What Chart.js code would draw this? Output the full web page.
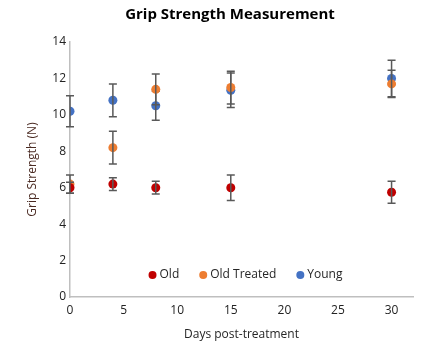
<!DOCTYPE html>
<html lang="en">
<head>
    <meta charset="UTF-8">
    <script src="https://cdn.jsdelivr.net/npm/chart.js"></script>
    <title>Grip Strength</title>
    <style>
        body { margin: 0; background: #fff; }
    </style>
</head>
<body>
    <canvas id="gripChart" width="433" height="360"></canvas>

    <script>
        // days post-treatment
        const days = [0, 4, 8, 15, 30];

        // mean grip strength (N) and error (+/-)
        const oldVals = [6.0, 6.2, 6.0, 6.0, 5.75];
        const oldErr = [0.3, 0.35, 0.35, 0.7, 0.6];
        const treatedVals = [6.2, 8.2, 11.4, 11.5, 11.7];
        const treatedErr = [0.5, 0.9, 0.85, 0.9, 0.75];
        const youngVals = [10.2, 10.8, 10.5, 11.35, 12.0];
        const youngErr = [0.85, 0.9, 0.8, 0.95, 1.0];

        const xTicks = [0, 5, 10, 15, 20, 25, 30];

        const chartTitle = 'Grip Strength Measurement';
        const font = '"Open Sans", "Noto Sans", sans-serif';

        function toPoints(vals) {
            return days.map((d, i) => ({ x: d, y: vals[i] }));
        }

        // draws vertical error bars for each dataset right after it is drawn
        const errorBars = {
            id: 'errorBars',
            afterDatasetDraw(chart, args) {
                const ds = chart.data.datasets[args.index];
                if (!ds.errors) return;
                const { ctx, scales: { x, y } } = chart;
                ctx.save();
                ctx.strokeStyle = '#595959';
                ctx.lineWidth = 1.5;
                ds.data.forEach((p, i) => {
                    const px = x.getPixelForValue(p.x);
                    const top = y.getPixelForValue(p.y + ds.errors[i]);
                    const bot = y.getPixelForValue(p.y - ds.errors[i]);
                    ctx.beginPath();
                    ctx.moveTo(px, top); ctx.lineTo(px, bot);
                    ctx.moveTo(px - 4, top); ctx.lineTo(px + 4, top);
                    ctx.moveTo(px - 4, bot); ctx.lineTo(px + 4, bot);
                    ctx.stroke();
                });
                ctx.restore();
            }
        };

        // title a bit off-centre, and legend inside the plot near the bottom
        const innerLegend = {
            id: 'innerLegend',
            afterDraw(chart) {
                const { ctx, chartArea } = chart;
                ctx.save();
                ctx.textBaseline = 'middle';
                ctx.textAlign = 'center';
                ctx.fillStyle = '#000';
                ctx.font = 'bold 15px ' + font;
                ctx.fillText(chartTitle, 230, 15);

                ctx.textAlign = 'left';
                ctx.font = '12px ' + font;
                const items = chart.data.datasets.map(ds => ({
                    label: ds.label, color: ds.backgroundColor,
                    w: 11 + ctx.measureText(ds.label).width
                }));
                const gap = 20;
                const total = items.reduce((s, it) => s + it.w, 0) + gap * (items.length - 1);
                let cx = (chartArea.left + chartArea.right) / 2 + 4 - total / 2;
                const cy = 275;
                items.forEach(it => {
                    ctx.fillStyle = it.color;
                    ctx.beginPath();
                    ctx.arc(cx + 4, cy, 4, 0, Math.PI * 2);
                    ctx.fill();
                    ctx.fillStyle = '#262626';
                    ctx.fillText(it.label, cx + 11, cy);
                    cx += it.w + gap;
                });
                ctx.restore();
            }
        };

        const ctx = document.getElementById('gripChart').getContext('2d');
        new Chart(ctx, {
            type: 'scatter',
            data: {
                datasets: [
                    { label: 'Old', data: toPoints(oldVals), errors: oldErr,
                      backgroundColor: '#C00000', borderColor: '#C00000' },
                    { label: 'Old Treated', data: toPoints(treatedVals), errors: treatedErr,
                      backgroundColor: '#ED7D31', borderColor: '#ED7D31' },
                    { label: 'Young', data: toPoints(youngVals), errors: youngErr,
                      backgroundColor: '#4472C4', borderColor: '#4472C4' }
                ]
            },
            options: {
                responsive: false,
                animation: false,
                layout: { padding: { left: 0, right: 20, top: 42, bottom: 6 } },
                elements: { point: { radius: 4.5, borderWidth: 0, hoverRadius: 4.5 } },
                plugins: {
                    legend: { display: false },
                    tooltip: { enabled: false },
                    title: { display: false }
                },
                scales: {
                    x: {
                        type: 'linear',
                        min: 0, max: 32,
                        afterBuildTicks: axis => { axis.ticks = xTicks.map(v => ({ value: v })); },
                        grid: { display: false, drawTicks: false },
                        border: { color: '#BFBFBF', width: 1.5 },
                        ticks: { color: '#222', padding: 6, font: { family: font, size: 12 } },
                        title: {
                            display: true, text: 'Days post-treatment', color: '#262626',
                            font: { family: font, size: 12 }, padding: { top: 4, bottom: 12 }
                        },
                        afterFit: axis => { axis.height = 57; }
                    },
                    y: {
                        min: 0, max: 14,
                        ticks: { stepSize: 2, color: '#222', padding: 4, font: { family: font, size: 12 } },
                        grid: { display: false, drawTicks: false },
                        border: { color: '#BFBFBF', width: 1.5 },
                        title: {
                            display: true, text: 'Grip Strength (N)', color: '#4a2a22',
                            font: { family: font, size: 12 }, padding: { top: 25, bottom: 4 }
                        },
                        afterFit: axis => { axis.width = 70; }
                    }
                }
            },
            plugins: [errorBars, innerLegend]
        });
    </script>
</body>
</html>
